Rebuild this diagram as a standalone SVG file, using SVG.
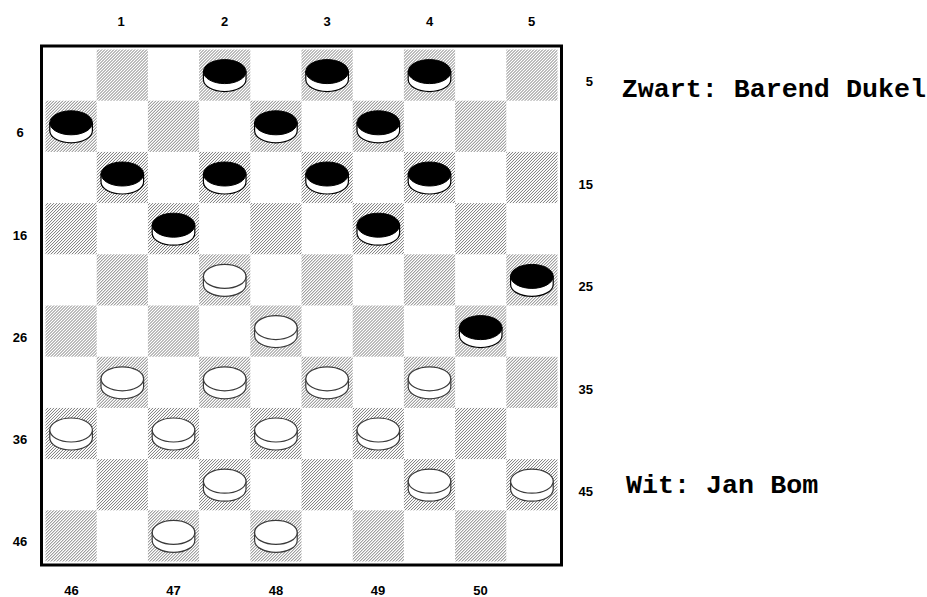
<svg xmlns="http://www.w3.org/2000/svg" xmlns:xlink="http://www.w3.org/1999/xlink" width="927" height="597" viewBox="0 0 927 597">
<style>
.lbl{font-family:"Liberation Sans",Arial,sans-serif;font-weight:bold;font-size:13px;fill:#000}
.c{text-anchor:middle}
.r{text-anchor:end}
.name{font-family:"Liberation Mono","Courier New",monospace;font-weight:bold;font-size:26.7px;fill:#000}
.hatch{fill:url(#h)}
.side{fill:#fff;stroke-width:1.2}
</style>
<defs>
<pattern id="h" width="3" height="3" patternUnits="userSpaceOnUse">
<path d="M-1,1 L1,-1 M0,3 L3,0 M2,4 L4,2" stroke="#6a6a6a" stroke-width="0.9"/>
</pattern>
<g id="rowE" class="hatch">
<rect x="96.7" y="0" width="51.2" height="51.2"/>
<rect x="199.1" y="0" width="51.2" height="51.2"/>
<rect x="301.5" y="0" width="51.2" height="51.2"/>
<rect x="403.9" y="0" width="51.2" height="51.2"/>
<rect x="506.3" y="0" width="51.2" height="51.2"/>
</g>
<g id="rowO" class="hatch">
<rect x="45.5" y="0" width="51.2" height="51.2"/>
<rect x="147.9" y="0" width="51.2" height="51.2"/>
<rect x="250.3" y="0" width="51.2" height="51.2"/>
<rect x="352.7" y="0" width="51.2" height="51.2"/>
<rect x="455.1" y="0" width="51.2" height="51.2"/>
</g>
<g id="bp">
<path class="side" stroke="#000" d="M-21.3,-3.5 L-21.3,4.5 A21.3,12 0 0 0 21.3,4.5 L21.3,-3.5 Z"/>
<ellipse cx="0" cy="-3.5" rx="21.3" ry="12" fill="#000" stroke="#000" stroke-width="1"/>
</g>
<g id="wp">
<path class="side" stroke="#3a3a3a" d="M-21.3,-3.5 L-21.3,4.5 A21.3,12 0 0 0 21.3,4.5 L21.3,-3.5 Z"/>
<ellipse cx="0" cy="-3.5" rx="21.3" ry="12" fill="#fff" stroke="#3a3a3a" stroke-width="1.2"/>
</g>
</defs>
<rect width="927" height="597" fill="#fff"/>
<g id="board">
<rect x="41.5" y="46" width="520" height="519" fill="#fff" stroke="#000" stroke-width="3"/>
<use xlink:href="#rowE" y="49.5"/>
<use xlink:href="#rowO" y="100.7"/>
<use xlink:href="#rowE" y="151.9"/>
<use xlink:href="#rowO" y="203.1"/>
<use xlink:href="#rowE" y="254.3"/>
<use xlink:href="#rowO" y="305.5"/>
<use xlink:href="#rowE" y="356.7"/>
<use xlink:href="#rowO" y="407.9"/>
<use xlink:href="#rowE" y="459.1"/>
<use xlink:href="#rowO" y="510.3"/>
</g>
<g id="pieces">
<use id="b2" xlink:href="#bp" x="224.7" y="75.1"/>
<use id="b3" xlink:href="#bp" x="327.1" y="75.1"/>
<use id="b4" xlink:href="#bp" x="429.5" y="75.1"/>
<use id="b6" xlink:href="#bp" x="71.1" y="126.3"/>
<use id="b8" xlink:href="#bp" x="275.9" y="126.3"/>
<use id="b9" xlink:href="#bp" x="378.3" y="126.3"/>
<use id="b11" xlink:href="#bp" x="122.3" y="177.5"/>
<use id="b12" xlink:href="#bp" x="224.7" y="177.5"/>
<use id="b13" xlink:href="#bp" x="327.1" y="177.5"/>
<use id="b14" xlink:href="#bp" x="429.5" y="177.5"/>
<use id="b17" xlink:href="#bp" x="173.5" y="228.7"/>
<use id="b19" xlink:href="#bp" x="378.3" y="228.7"/>
<use id="w22" xlink:href="#wp" x="224.7" y="279.9"/>
<use id="b25" xlink:href="#bp" x="531.9" y="279.9"/>
<use id="w28" xlink:href="#wp" x="275.9" y="331.1"/>
<use id="b30" xlink:href="#bp" x="480.7" y="331.1"/>
<use id="w31" xlink:href="#wp" x="122.3" y="382.3"/>
<use id="w32" xlink:href="#wp" x="224.7" y="382.3"/>
<use id="w33" xlink:href="#wp" x="327.1" y="382.3"/>
<use id="w34" xlink:href="#wp" x="429.5" y="382.3"/>
<use id="w36" xlink:href="#wp" x="71.1" y="433.5"/>
<use id="w37" xlink:href="#wp" x="173.5" y="433.5"/>
<use id="w38" xlink:href="#wp" x="275.9" y="433.5"/>
<use id="w39" xlink:href="#wp" x="378.3" y="433.5"/>
<use id="w42" xlink:href="#wp" x="224.7" y="484.7"/>
<use id="w44" xlink:href="#wp" x="429.5" y="484.7"/>
<use id="w45" xlink:href="#wp" x="531.9" y="484.7"/>
<use id="w47" xlink:href="#wp" x="173.5" y="535.9"/>
<use id="w48" xlink:href="#wp" x="275.9" y="535.9"/>
</g>
<g id="labels">
<text class="lbl c" x="121" y="26">1</text>
<text class="lbl c" x="224.5" y="26">2</text>
<text class="lbl c" x="327" y="26">3</text>
<text class="lbl c" x="429.5" y="26">4</text>
<text class="lbl c" x="531.5" y="26">5</text>
<text class="lbl r" x="593" y="86">5</text>
<text class="lbl r" x="593" y="189">15</text>
<text class="lbl r" x="593" y="291">25</text>
<text class="lbl r" x="593" y="394">35</text>
<text class="lbl r" x="593" y="496">45</text>
<text class="lbl c" x="20" y="137">6</text>
<text class="lbl c" x="20" y="240">16</text>
<text class="lbl c" x="20" y="342">26</text>
<text class="lbl c" x="20" y="444">36</text>
<text class="lbl c" x="20" y="546">46</text>
<text class="lbl c" x="71.5" y="595">46</text>
<text class="lbl c" x="173.5" y="595">47</text>
<text class="lbl c" x="276" y="595">48</text>
<text class="lbl c" x="378" y="595">49</text>
<text class="lbl c" x="480.5" y="595">50</text>
</g>
<g id="players">
<text class="name" x="621.7" y="97">Zwart: Barend Dukel</text>
<text class="name" x="626" y="493.3">Wit: Jan Bom</text>
</g>
</svg>
